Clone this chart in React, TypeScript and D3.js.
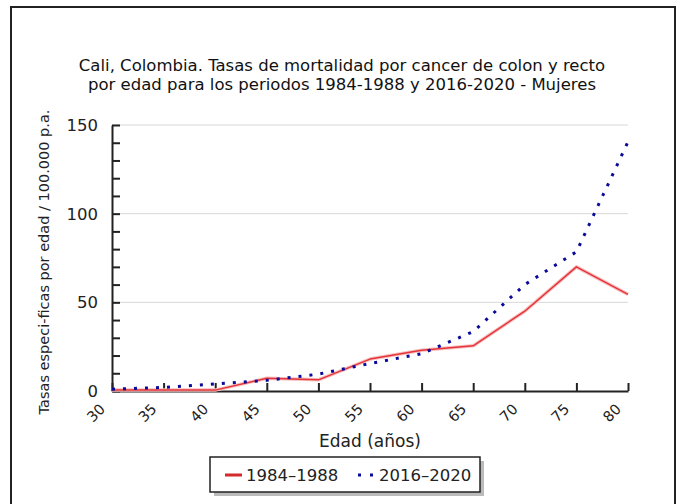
import React, { useEffect, useRef } from 'react';
import * as d3 from 'd3';

const ages = [30, 35, 40, 45, 50, 55, 60, 65, 70, 75, 80];
const rates1984 = [0.5, 0.5, 0.5, 7.2, 6.3, 18, 23, 25.5, 45, 70, 54.5];
const rates2016 = [1, 2, 4, 6, 9.5, 15.5, 21, 33.5, 60, 78.5, 140.5];
const yTicks = [0, 50, 100, 150];
const titleLines = [
  'Cali, Colombia. Tasas de mortalidad por cancer de colon y recto',
  'por edad para los periodos 1984-1988 y 2016-2020 - Mujeres',
];
const seriesNames = ['1984–1988', '2016–2020'];

const FONT = 'DejaVu Sans, Verdana, sans-serif';

function App() {
  const ref = useRef<SVGSVGElement>(null);

  useEffect(() => {
    const svg = d3.select(ref.current);
    svg.selectAll('*').remove();
    const width = 681;
    const height = 504;
    const margin = { top: 125, right: 53, bottom: 113, left: 112 };

    const x = d3
      .scaleLinear()
      .domain([30, 80])
      .range([margin.left, width - margin.right]);
    const y = d3
      .scaleLinear()
      .domain([0, 150])
      .range([height - margin.bottom, margin.top]);

    // outer frame
    svg
      .append('rect')
      .attr('x', 11)
      .attr('y', 7)
      .attr('width', 664)
      .attr('height', 510)
      .attr('fill', '#fff')
      .attr('stroke', '#222')
      .attr('stroke-width', 2);

    // title
    svg
      .append('g')
      .selectAll('text')
      .data(titleLines)
      .join('text')
      .attr('x', 342)
      .attr('y', (d, i) => 71 + i * 19)
      .attr('text-anchor', 'middle')
      .attr('font-family', FONT)
      .attr('font-size', 16.5)
      .attr('fill', '#111')
      .text(d => d);

    // grid
    svg
      .append('g')
      .selectAll('line')
      .data(yTicks.filter(d => d > 0))
      .join('line')
      .attr('x1', x(30))
      .attr('x2', x(80))
      .attr('y1', d => y(d))
      .attr('y2', d => y(d))
      .attr('stroke', '#d8d8d8')
      .attr('stroke-width', 1);

    // y axis
    const yAxis = svg
      .append('g')
      .attr('transform', `translate(${x(30)},0)`)
      .call(
        d3
          .axisRight(y)
          .tickValues(d3.range(0, 151, 10))
          .tickSize(8)
          .tickSizeOuter(0)
          .tickFormat(() => ''),
      );
    yAxis.select('.domain').attr('stroke', '#222').attr('stroke-width', 2);
    yAxis.selectAll('line').attr('stroke', '#222').attr('stroke-width', 2);

    svg
      .append('g')
      .selectAll('text')
      .data(yTicks)
      .join('text')
      .attr('x', 98)
      .attr('y', d => y(d) + 6)
      .attr('text-anchor', 'end')
      .attr('font-family', FONT)
      .attr('font-size', 16.5)
      .attr('fill', '#222')
      .text(d => d);

    // x axis
    const xAxis = svg
      .append('g')
      .attr('transform', `translate(0,${y(0)})`)
      .call(
        d3
          .axisTop(x)
          .tickValues(ages)
          .tickSize(8)
          .tickSizeOuter(0)
          .tickFormat(() => ''),
      );
    xAxis.select('.domain').attr('stroke', '#222').attr('stroke-width', 2);
    xAxis.selectAll('line').attr('stroke', '#222').attr('stroke-width', 2);

    svg
      .append('g')
      .selectAll('text')
      .data(ages)
      .join('text')
      .attr(
        'transform',
        d => `translate(${x(d) - 6},${y(0) + 19}) rotate(-45)`,
      )
      .attr('text-anchor', 'end')
      .attr('font-family', FONT)
      .attr('font-size', 14.5)
      .attr('fill', '#222')
      .text(d => d);

    // axis titles
    svg
      .append('text')
      .attr('transform', `translate(49,262) rotate(-90)`)
      .attr('text-anchor', 'middle')
      .attr('font-family', FONT)
      .attr('font-size', 14.5)
      .attr('fill', '#222')
      .text('Tasas especi-ficas por edad / 100.000 p.a.');

    svg
      .append('text')
      .attr('x', 370)
      .attr('y', 447)
      .attr('text-anchor', 'middle')
      .attr('font-family', FONT)
      .attr('font-size', 17)
      .attr('fill', '#222')
      .text('Edad (años)');

    // lines
    const line = d3
      .line<number>()
      .x((d, i) => x(ages[i]))
      .y(d => y(d));

    svg
      .append('path')
      .datum(rates1984)
      .attr('fill', 'none')
      .attr('stroke', '#f7c0c0')
      .attr('stroke-width', 3.5)
      .attr('stroke-linejoin', 'round')
      .attr('d', line);
    svg
      .append('path')
      .datum(rates1984)
      .attr('fill', 'none')
      .attr('stroke', '#e5343a')
      .attr('stroke-width', 1.5)
      .attr('stroke-linejoin', 'round')
      .attr('d', line);

    svg
      .append('path')
      .datum(rates2016)
      .attr('fill', 'none')
      .attr('stroke', '#0a0a9a')
      .attr('stroke-width', 3)
      .attr('stroke-dasharray', '3,8')
      .attr('d', line);

    // legend
    const lg = svg.append('g').attr('transform', 'translate(210,457)');
    lg.append('rect')
      .attr('x', 4)
      .attr('y', 4)
      .attr('width', 270)
      .attr('height', 35)
      .attr('fill', '#bbb');
    lg.append('rect')
      .attr('width', 270)
      .attr('height', 35)
      .attr('fill', '#fff')
      .attr('stroke', '#222')
      .attr('stroke-width', 1.5);
    lg.append('line')
      .attr('x1', 15)
      .attr('x2', 32)
      .attr('y1', 18)
      .attr('y2', 18)
      .attr('stroke', '#d42a2a')
      .attr('stroke-width', 3);
    lg.append('line')
      .attr('x1', 148)
      .attr('x2', 163)
      .attr('y1', 18)
      .attr('y2', 18)
      .attr('stroke', '#0a0a9a')
      .attr('stroke-width', 3)
      .attr('stroke-dasharray', '3,9');
    lg.selectAll('text.leg')
      .data(seriesNames)
      .join('text')
      .attr('class', 'leg')
      .attr('x', (d, i) => (i === 0 ? 36 : 169))
      .attr('y', 24)
      .attr('font-family', FONT)
      .attr('font-size', 16.5)
      .attr('fill', '#222')
      .text(d => d);
  }, []);

  return (
    <svg
      ref={ref}
      width={681}
      height={504}
      style={{ position: 'absolute', left: 0, top: 0, background: '#fff' }}
    />
  );
}

export default App;
